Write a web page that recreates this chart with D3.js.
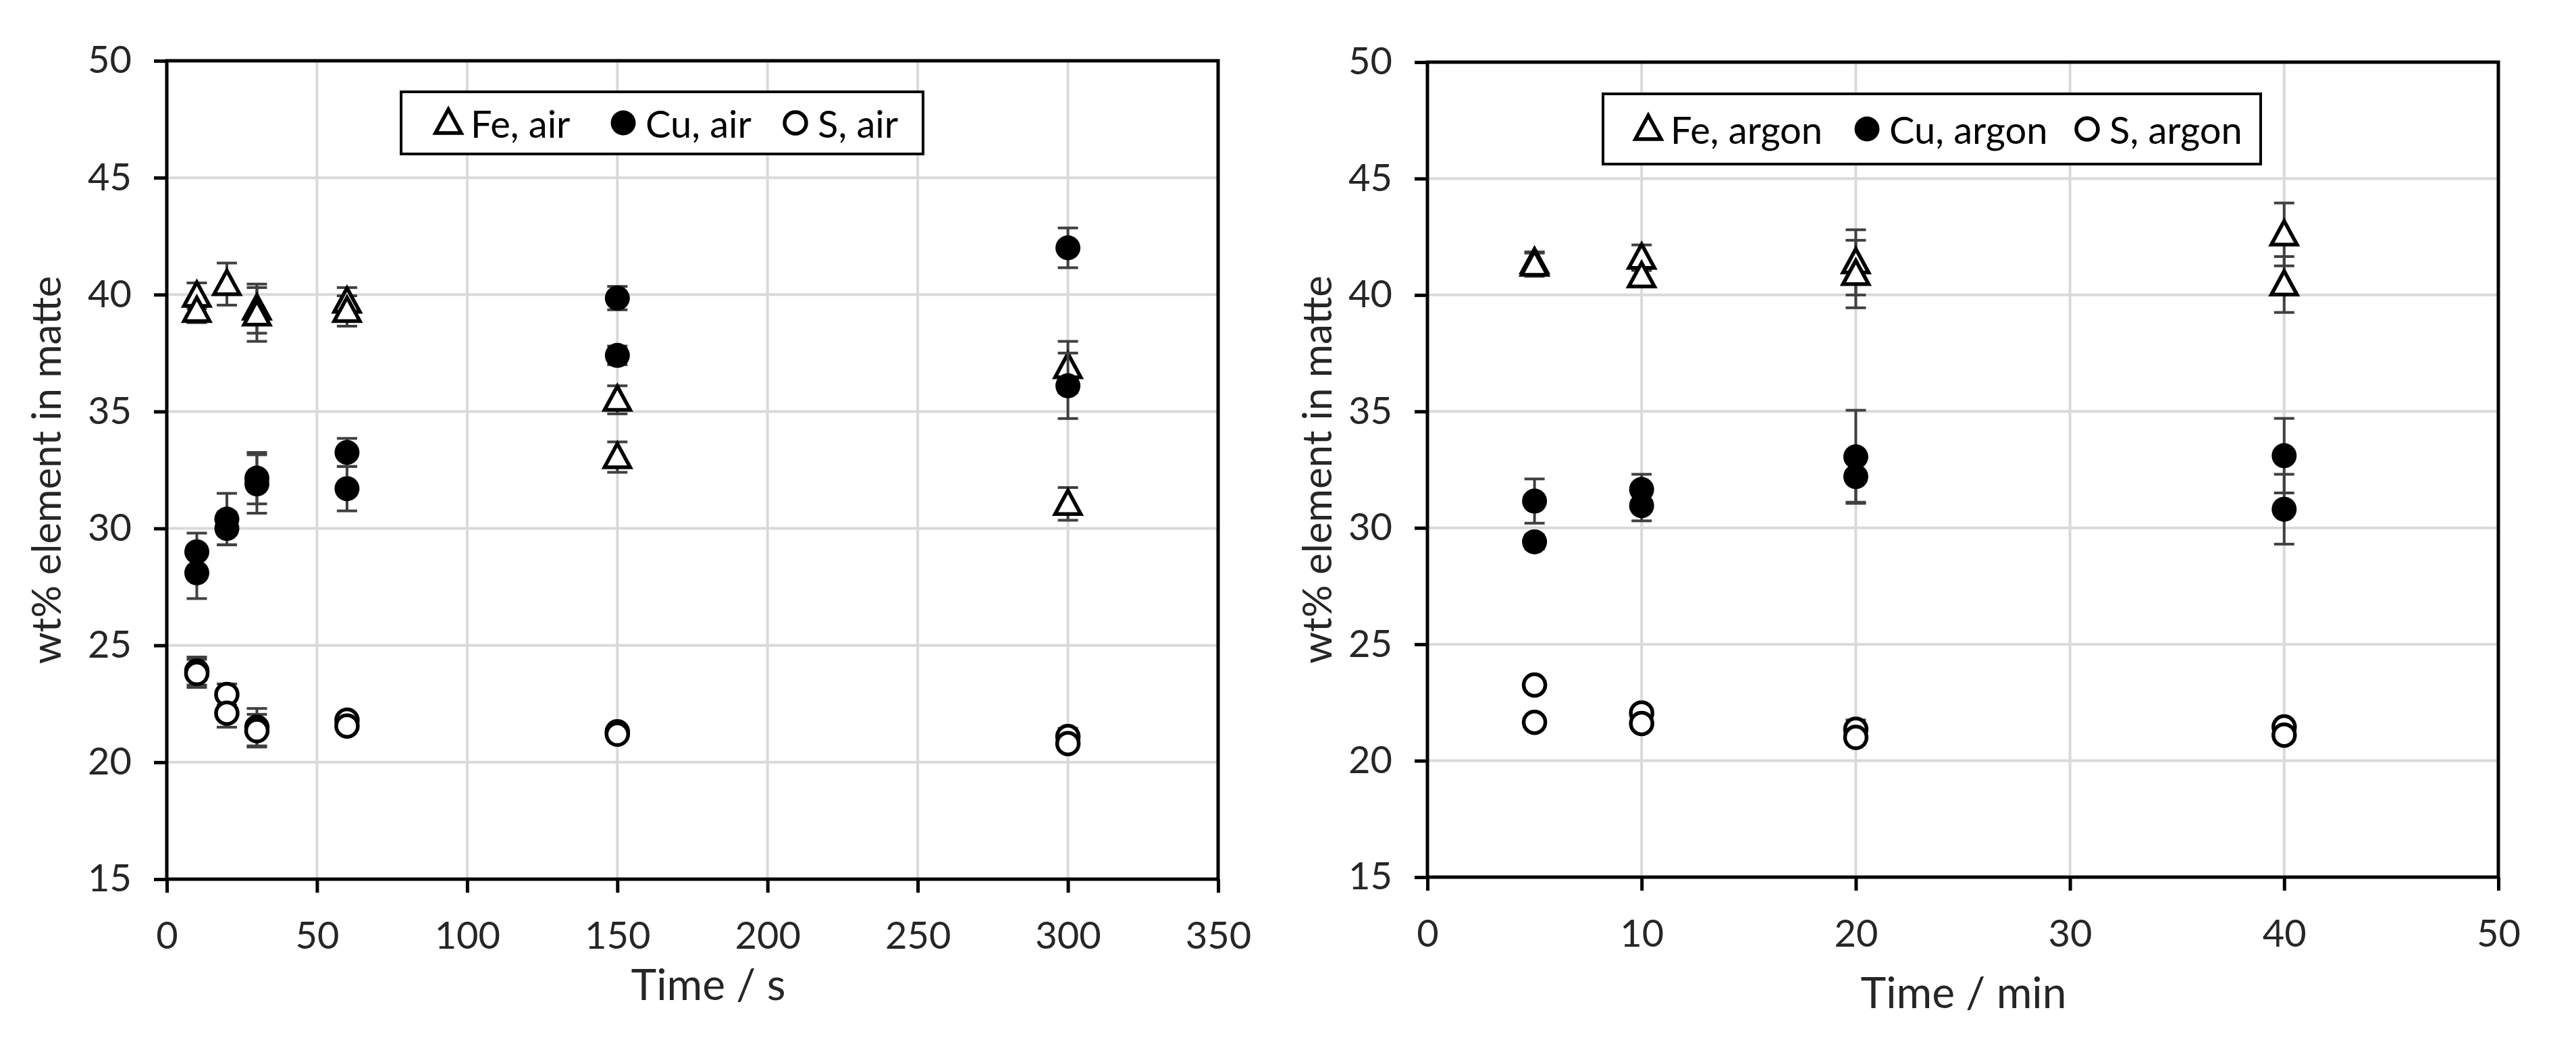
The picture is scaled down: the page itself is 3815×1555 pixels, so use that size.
<!DOCTYPE html>
<html>
<head>
<meta charset="utf-8">
<script src="https://cdn.jsdelivr.net/npm/d3@7"></script>
<style>
  body { margin: 0; background: #fff; }
  svg { display: block; font-family: Lato, "Open Sans", sans-serif; }
</style>
</head>
<body>
<svg id="chart" width="3815" height="1555"></svg>
<script>
// ---- data: air (time in s) ----
const airFeX = [10, 10, 20, 30, 30, 60, 60, 150, 150, 300, 300];
const airFeY = [39.95, 39.3, 40.45, 39.4, 39.15, 39.7, 39.3, 35.5, 33.05, 36.9, 31.05];
const airFeErr = [0.55, 0.5, 0.9, 1.05, 1.15, 0.6, 0.65, 0.6, 0.65, 1.1, 0.7];

const airCuX = [10, 10, 20, 20, 30, 30, 60, 60, 150, 150, 300, 300];
const airCuY = [29.0, 28.1, 30.4, 30.0, 32.15, 31.9, 33.25, 31.7, 39.85, 37.4, 42.0, 36.1];
const airCuErr = [0.8, 1.1, 1.1, 0.7, 1.1, 1.25, 0.6, 0.95, 0.5, 0.4, 0.85, 1.4];

const airSX = [10, 10, 20, 20, 30, 30, 60, 60, 150, 150, 300, 300];
const airSY = [23.9, 23.8, 22.9, 22.1, 21.5, 21.35, 21.8, 21.55, 21.3, 21.2, 21.1, 20.8];
const airSErr = [0.6, 0.6, 0.45, 0.6, 0.8, 0.7, 0.2, 0.2, 0.25, 0.2, 0.35, 0.2];

// ---- data: argon (time in min) ----
const argFeX = [5, 5, 10, 10, 20, 20, 40, 40];
const argFeY = [41.4, 41.3, 41.6, 40.8, 41.4, 40.9, 42.6, 40.45];
const argFeErr = [0.45, 0.5, 0.55, 0.45, 1.4, 1.45, 1.35, 1.2];

const argCuX = [5, 5, 10, 10, 20, 20, 40, 40];
const argCuY = [31.15, 29.4, 31.65, 30.95, 33.05, 32.2, 33.1, 30.8];
const argCuErr = [0.95, 0.3, 0.65, 0.65, 2.0, 1.1, 1.6, 1.5];

const argSX = [5, 5, 10, 10, 20, 20, 40, 40];
const argSY = [23.25, 21.65, 22.05, 21.6, 21.35, 21.0, 21.45, 21.1];
const argSErr = [0.15, 0.15, 0.2, 0.2, 0.4, 0.3, 0.25, 0.2];

const yTicks = [15, 20, 25, 30, 35, 40, 45, 50];
const airXTicks = [0, 50, 100, 150, 200, 250, 300, 350];
const argXTicks = [0, 10, 20, 30, 40, 50];

const yTitle = "wt% element in matte";

const zip = (xs, ys, es) => xs.map((x, i) => ({ x, y: ys[i], err: es[i] }));

const svg = d3.select("#chart");
svg.append("rect").attr("width", 3815).attr("height", 1555).attr("fill", "#fff");

const panels = [
  {
    left: 247, right: 1804, top: 90, bottom: 1302,
    xDomain: [0, 350], xTicks: airXTicks, xTitle: "Time / s",
    xTitlePos: [1049, 1481], yTitleX: 67,
    legend: { x: 594, y: 136, w: 773, h: 92, items: [664, 923, 1178] },
    series: [
      { name: "Fe, air", shape: "tri", data: zip(airFeX, airFeY, airFeErr) },
      { name: "Cu, air", shape: "dot", data: zip(airCuX, airCuY, airCuErr) },
      { name: "S, air", shape: "ring", data: zip(airSX, airSY, airSErr) },
    ],
  },
  {
    left: 2114, right: 3700, top: 92, bottom: 1299,
    xDomain: [0, 50], xTicks: argXTicks, xTitle: "Time / min",
    xTitlePos: [2908, 1493], yTitleX: 1949,
    legend: { x: 2374, y: 139, w: 974, h: 104, items: [2441, 2765, 3091] },
    series: [
      { name: "Fe, argon", shape: "tri", data: zip(argFeX, argFeY, argFeErr) },
      { name: "Cu, argon", shape: "dot", data: zip(argCuX, argCuY, argCuErr) },
      { name: "S, argon", shape: "ring", data: zip(argSX, argSY, argSErr) },
    ],
  },
];

const triPath = "M0,-20L19,15L-19,15Z";

function marker(sel, shape) {
  if (shape === "tri") {
    sel.append("path").attr("d", triPath)
      .attr("fill", "#fff").attr("stroke", "#000").attr("stroke-width", 5.5)
      .attr("stroke-linejoin", "miter");
  } else if (shape === "dot") {
    sel.append("circle").attr("r", 18.5).attr("fill", "#000");
  } else {
    sel.append("circle").attr("r", 16).attr("fill", "#fff")
      .attr("stroke", "#000").attr("stroke-width", 5.5);
  }
}

panels.forEach(p => {
  const x = d3.scaleLinear().domain(p.xDomain).range([p.left, p.right]);
  const y = d3.scaleLinear().domain([15, 50]).range([p.bottom, p.top]);
  const g = svg.append("g");

  // gridlines
  g.append("g").selectAll("line.gx")
    .data(p.xTicks.slice(1, -1))
    .join("line")
    .attr("x1", d => x(d)).attr("x2", d => x(d))
    .attr("y1", p.top).attr("y2", p.bottom)
    .attr("stroke", "#d9d9d9").attr("stroke-width", 4);
  g.append("g").selectAll("line.gy")
    .data(yTicks.slice(1, -1))
    .join("line")
    .attr("x1", p.left).attr("x2", p.right)
    .attr("y1", d => y(d)).attr("y2", d => y(d))
    .attr("stroke", "#d9d9d9").attr("stroke-width", 4);

  // axes
  const xAxis = g.append("g")
    .attr("transform", `translate(0,${p.bottom})`)
    .call(d3.axisBottom(x).tickValues(p.xTicks).tickSize(20).tickSizeOuter(0).tickPadding(43));
  const yAxis = g.append("g")
    .attr("transform", `translate(${p.left},0)`)
    .call(d3.axisLeft(y).tickValues(yTicks).tickSize(19).tickSizeOuter(0).tickPadding(33));
  [xAxis, yAxis].forEach(a => {
    a.select(".domain").remove();
    a.selectAll(".tick line").attr("stroke", "#000").attr("stroke-width", 5);
    a.selectAll(".tick text")
      .attr("font-family", "Lato, sans-serif")
      .attr("font-size", 56).attr("fill", "#262626");
  });

  // plot frame
  g.append("rect")
    .attr("x", p.left).attr("y", p.top)
    .attr("width", p.right - p.left).attr("height", p.bottom - p.top)
    .attr("fill", "none").attr("stroke", "#000").attr("stroke-width", 5);

  // titles
  g.append("text")
    .attr("x", p.xTitlePos[0]).attr("y", p.xTitlePos[1])
    .attr("text-anchor", "middle").attr("font-size", 64).attr("fill", "#262626")
    .text(p.xTitle);
  g.append("text")
    .attr("transform", `translate(${p.yTitleX},${(p.top + p.bottom) / 2}) rotate(-90)`)
    .attr("text-anchor", "middle").attr("dominant-baseline", "central")
    .attr("font-size", 60).attr("fill", "#262626")
    .text(yTitle);

  // series: error bars then markers
  p.series.forEach(s => {
    const eb = g.append("g").attr("stroke", "#404040").attr("stroke-width", 4);
    s.data.forEach(d => {
      const cx = x(d.x), yHi = y(d.y + d.err), yLo = y(d.y - d.err);
      eb.append("line").attr("x1", cx).attr("x2", cx).attr("y1", yHi).attr("y2", yLo);
      eb.append("line").attr("x1", cx - 15).attr("x2", cx + 15).attr("y1", yHi).attr("y2", yHi);
      eb.append("line").attr("x1", cx - 15).attr("x2", cx + 15).attr("y1", yLo).attr("y2", yLo);
    });
    g.append("g").selectAll("g")
      .data(s.data)
      .join("g")
      .attr("transform", d => `translate(${x(d.x)},${y(d.y)})`)
      .each(function () { marker(d3.select(this), s.shape); });
  });

  // legend
  const L = p.legend;
  const lg = g.append("g");
  lg.append("rect")
    .attr("x", L.x).attr("y", L.y).attr("width", L.w).attr("height", L.h)
    .attr("fill", "#fff").attr("stroke", "#000").attr("stroke-width", 4);
  p.series.forEach((s, i) => {
    const cy = L.y + L.h / 2;
    const m = lg.append("g").attr("transform", `translate(${L.items[i]},${cy})`);
    marker(m, s.shape);
    lg.append("text")
      .attr("x", L.items[i] + 33).attr("y", cy)
      .attr("dominant-baseline", "central")
      .attr("font-size", 56).attr("fill", "#000")
      .text(s.name);
  });
});
</script>
</body>
</html>
